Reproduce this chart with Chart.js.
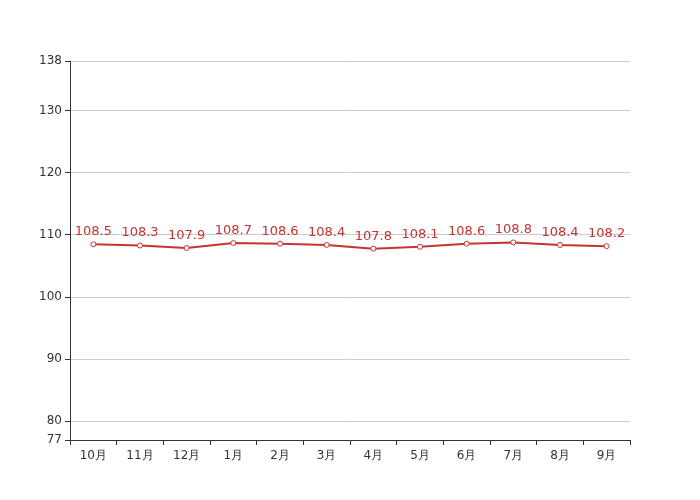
<!DOCTYPE html>
<html>
<head>
<meta charset="utf-8">
<script src="https://cdn.jsdelivr.net/npm/chart.js@4"></script>
<style>
  html, body { margin: 0; padding: 0; background: #fff; }
  #wrap { width: 700px; height: 500px; }
</style>
</head>
<body>
<div id="wrap"><canvas id="lineChart" width="700" height="500"></canvas></div>
<script>
var months = ['10月', '11月', '12月', '1月', '2月', '3月', '4月', '5月', '6月', '7月', '8月', '9月'];
var values = [108.5, 108.3, 107.9, 108.7, 108.6, 108.4, 107.8, 108.1, 108.6, 108.8, 108.4, 108.2];
var yTicks = [77, 80, 90, 100, 110, 120, 130, 138];

var lineRed = '#c23531';
var textColor = '#333';

// 점 위에 값 표시
var valueLabels = {
	id: 'valueLabels',
	afterDatasetsDraw: function(chart) {
		var ctx = chart.ctx;
		var meta = chart.getDatasetMeta(0);
		ctx.save();
		ctx.font = '13px "DejaVu Sans"';
		ctx.fillStyle = lineRed;
		ctx.textAlign = 'center';
		ctx.textBaseline = 'bottom';
		meta.data.forEach(function(pt, i) {
			ctx.fillText(values[i].toFixed(1), pt.x, pt.y - 6);
		});
		ctx.restore();
	}
};

var context = document.getElementById('lineChart').getContext('2d');
var myChart = new Chart(context, {
	type: 'line',
	data: {
		labels: months,
		datasets: [{
			data: values,
			borderColor: lineRed,
			borderWidth: 2,
			backgroundColor: '#fff',
			pointBackgroundColor: '#fff',
			pointBorderColor: lineRed,
			pointBorderWidth: 1,
			pointRadius: 2.5,
			fill: false,
			tension: 0
		}]
	},
	options: {
		responsive: false,
		animation: false,
		events: [],
		layout: { padding: { left: 0, top: 61, right: 70, bottom: 0 } },
		plugins: {
			legend: { display: false },
			tooltip: { enabled: false }
		},
		scales: {
			x: {
				offset: true,
				grid: {
					offset: true,
					drawOnChartArea: false,
					drawTicks: true,
					tickLength: 5,
					tickColor: textColor
				},
				border: { color: textColor, width: 1 },
				ticks: {
					color: textColor,
					font: { family: 'DejaVu Sans', size: 12 },
					padding: 4,
					maxRotation: 0,
					autoSkip: false
				},
				afterFit: function(scale) { scale.height = 60; }
			},
			y: {
				min: 77,
				max: 138,
				afterBuildTicks: function(scale) {
					scale.ticks = yTicks.map(function(v) { return { value: v }; });
				},
				grid: {
					color: '#ccc',
					drawTicks: true,
					tickLength: 5,
					tickColor: textColor
				},
				border: { color: textColor, width: 1 },
				ticks: {
					color: textColor,
					font: { family: 'DejaVu Sans', size: 12 },
					padding: 3
				},
				afterFit: function(scale) { scale.width = 70; }
			}
		}
	},
	plugins: [valueLabels]
});
</script>
</body>
</html>
